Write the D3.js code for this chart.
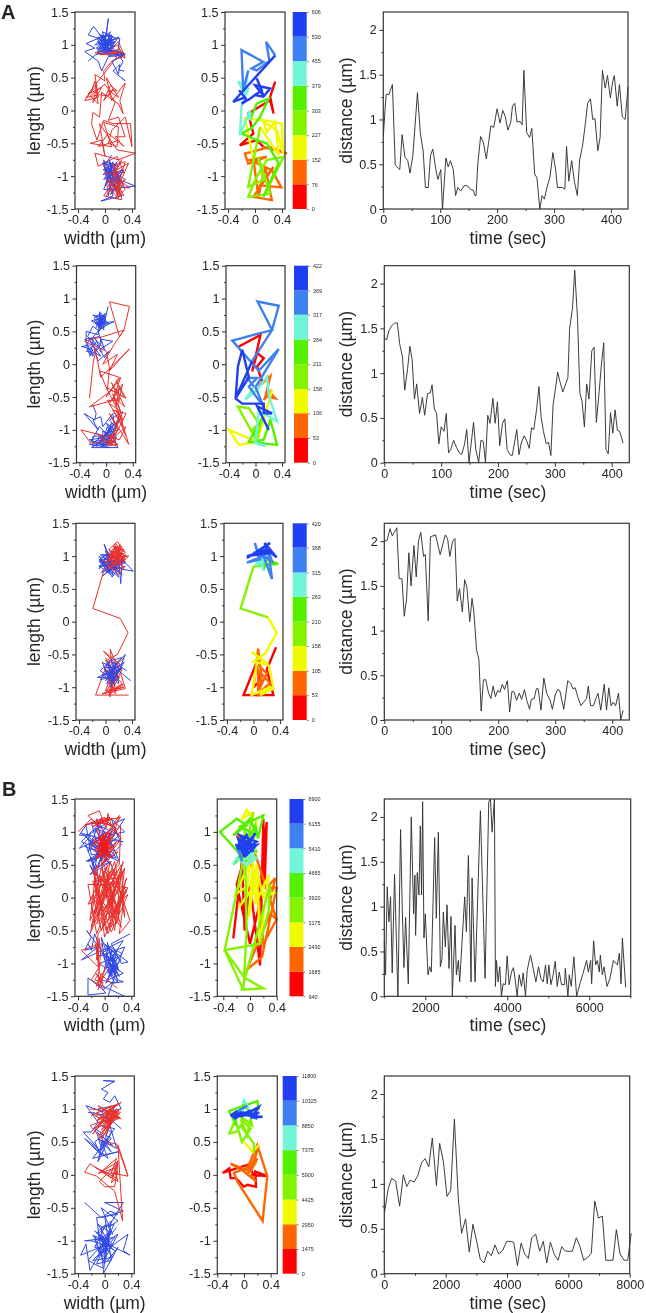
<!DOCTYPE html>
<html><head><meta charset="utf-8">
<script src="https://cdnjs.cloudflare.com/ajax/libs/d3/7.8.5/d3.min.js"></script>
<style>html,body{margin:0;padding:0;background:#fff}svg{display:block;filter:blur(.3px)}text{font-family:"Liberation Sans",Arial,sans-serif;fill:#262626}</style>
</head><body><svg id="c" width="646" height="1313"></svg>
<script>
// Values. Flat lists are x,y,x,y,...
const bandColors=["#ff0000","#ff6600","#f0fb00","#84f200","#55f000","#70f5d8","#3f80f0","#1f3ff0"];

const a1Red=[-.1,.9,.15,.92,.27,.85,.05,.9,.2,1.05,.3,.8,.12,.87,-.08,.85,.22,.93,.28,.83,.1,.75,-.02,.6,0,.45,-.15,.55,-.1,.2,-.3,.15,-.2,.3,-.15,.45,-.1,.1,-.22,.22,0,.4,.08,.28,.2,.2,.02,.5,.1,.15,.3,.42,.22,.15,.27,-.05,.2,.1,-.05,.28,-.08,-.1,-.18,-.03,-.2,-.2,-.12,-.45,-.02,-.15,.12,-.2,.38,-.2,.4,-.55,.3,-.1,.1,-.3,.05,-.5,.18,-.55,.2,-.25,-.02,-.18,.1,-.55,-.22,-.5,-.05,-.45,0,-.7,-.08,-.2,.18,-.6,.45,-.65,.2,-.75,-.15,-.65,-.1,-.85,.18,-.7,.28,-.95,0,-.9,.37,-1.18,.05,-1.14,.25,-.9,-.02,-1.3,.25,-1.36,.14,-.85,.05,-1.3,-.02,-.75,.1,-1.1,.22,-1.25,.18,-.95,.3,-1.2,.2,-1.3,.05,-1,.25,-1.15,.18,-1.3,.08,-.85,.3,-.78,.2,-1.1];
const a1RedMid=[-.12,.9,.28,.88,0,.92,.2,1,.25,.8,.08,.93,.3,.86,-.15,.88,.18,.82,-.25,.25,-.05,.35,-.18,.12,-.12,.38,-.28,.2,-.08,.24,.05,.22,.12,.33,-.02,.15,.08,.38,.18,.3,.05,.3,.15,.12,.05,-.15,.2,-.1,.3,-.4,.15,-.4,.28,-.55,.05,-.35,-.1,-.55,.22,-.45];
const a1RedLow=[0,-.95,.22,-1,.05,-1.25,.3,-1.05,.12,-1.2,.28,-1.3,.15,-1.05,.2,-1.35,.05,-1.15,.25,-.75,.1,-.95,.35,-.8,.18,-1.2,.02,-1.05,.28,-1.15,.12,-.8,.22,-1.3];
const a1Blue=[.1,-.68,-.02,-.85,.12,-.95,-.02,-.78,.15,-.82,-.03,-.9,.2,-1,.02,-1.1,.18,-.78,-.02,-1.05,.25,-.9,.05,-1.2,.45,-1.15,.2,-1.05,.02,-.95,.12,-1.3,-.06,-1.38,.25,-1.3,.1,-1.1,.05,-.85];
const a1BlueLow=[.02,-.82,.15,-.9,-.03,-.98,.12,-.78,0,-1.15,.18,-.95,.05,-.88,.1,-1.05,-.04,-.8,.2,-.85,.03,-1.02,.14,-1.15,0,-.9,.22,-1.1,.06,-.75,.17,-1.22,-.02,-1.2,.1,-.92,.3,-1.05,.08,-1.28,.28,-.9,.02,-1.3];
const a1BlueTop=[.25,.5,.3,.45,.12,.6,.22,.7,.2,.55,.1,.75,.28,.85,.05,.82,-.05,.6,-.1,.75,-.3,.9,-.15,.95,-.28,1.02,-.1,1.1,-.25,1.15,-.17,1.28,0,1.05,.05,1.4,.02,1.15,-.1,1.1,.1,1.15,.08,.95,-.1,.9,.12,1.08,-.05,1,.2,1.12,.05,.9,0,1.12,-.08,.95,.1,1.02,-.12,1.1,.02,.88,.08,1.15,-.05,.9,.13,.95,-.02,1.1,0,.92,.1,1.08,-.1,1.02,.15,.98,-.05,1.15,.05,.85,.3,.85,.15,.92,-.14,.85,-.25,.75];
const a1BlueCore=[-.12,1.05,.1,.9,-.08,1.15,.12,1.12,-.05,.95,.05,1.08,-.1,.88,.15,1.05,0,1,-.15,1,.08,1.2,-.02,.9,.12,.98,-.08,1.08,.05,.95,-.13,.95,.1,1.1,-.03,1.02,.08,.88,-.1,1.12,.14,1.02,.02,1.18,-.06,.98,.09,1.05,-.12,.92,.04,1,.16,1.1,-.04,1.2,.06,.92,-.09,1.04,.22,1.1,.18,.85,.27,.75,.2,.62,.28,.6];
const a1Bands=[
[.3,.44,.225,.21,.275,-.045,.225,.155,-.1,-.045,-.025,-.35,-.225,-.53,.025,-.45,.125,-.555],
[.475,-.655,.225,-.555,-.15,-.655,-.1,-.81,.175,-.705,-.075,-.755,.25,-.91,.39,-1.17,.075,-1.14,.275,-.86,-.025,-1.315,.25,-1.365,.15,-.86,.05,-1.315,-.025,-.73],
[-.15,-.12,.175,-.155,.4,-.2,.415,-.655,.325,-.3,.125,-.17,.175,-.325,.3,-.17,.35,-.68,.075,-.25],
[-.1,-1.16,.125,-1.06,.05,-.705,.225,-1.265,-.1,-1.315,.025,-1.01,.175,-.755,.425,-.705,.125,-1.315],
[.35,-.8,.175,-.5,.025,-.45,-.2,-.35,-.05,-.27,.075,-.1,.2,.18,.025,.105,-.075,-.15],
[-.075,0,-.225,-.375,-.2,.055,-.1,.335,-.25,.44,-.15,.26,-.1,.61],
[-.175,.31,-.2,.92,.125,.74,-.05,.64,.025,.61,.215,.755,.165,1.045,.3,.84],
[-.325,.13,-.15,.2,-.235,.31,-.125,.16,-.2,.105,-.075,.18,.1,.31,.025,.49,.125,.23,0,.385,.225,.335,.125,.21,0,.235,-.1,.16]];
const a1Ticks=[0,76,152,227,303,379,455,530,606];
const a1Distance=[0,.81,3,1.1,5,1.28,10,1.28,16,1.39,21,.49,29,.44,33,.83,38,.58,43,.54,47,.4,52,.6,60,1.3,65,.85,70,.65,74,.24,79,.24,83,.6,87,.67,92,.45,96,.33,101,.44,104,0,110,.57,114,.47,118,.54,123,.44,127,.15,131,.24,136,.2,142,.26,148,.26,153,.22,158,.21,161,.15,163,.15,166,.5,171,.81,176,.74,181,.56,185,.74,189,.93,194,.91,200,1.12,205,.96,210,1.1,214,1.04,219,.88,224,.97,227,1.15,231,1.18,235,.97,240,.98,244,.94,247,1.55,252,.85,257,.8,261,.9,266,.39,270,.35,275,0,279,.15,283,.11,288,.25,293,.36,298,.63,303,.43,306,.24,312,.24,315,.24,319,.22,322,.7,326,.31,331,.54,336,.3,341,.15,345,.55,350,.7,355,.95,359,1.18,364,1.23,368,1,372,1.01,377,.65,381,.8,385,1.55,390,1.35,394,1.49,399,1.24,403,1.42,406,1.49,411,1.15,415,1.39,420,1.03,425,1,430,1.36];

const a2Red=[-.25,-.52,-.19,.05,-.15,.2,-.17,.25,-.08,-.2,.35,.23,.05,-.1,.17,.15,-.05,0,.12,.3,.27,.52,.35,.88,.05,.95,.2,.42,.27,.52,-.05,.42,-.32,.35,0,.2,.05,-.05,.02,-.4,-.1,-.1,.2,-.2,0,-.5,.22,-.2,.1,-.55,-.25,-.65,.08,-.4,.27,-.5,.15,-.25,.3,-.52,0,-.35,.15,-.65,.2,-.35,.05,-.6,.22,-.72,.1,-.45,.25,-.95,.1,-.7,.3,-.75,.18,-1,.05,-.75,.34,-1.22,.2,-.75,.15,-.95,.02,-1.2,.3,-.95,.2,-1.15,-.38,-1,-.23,-1.2,0,-1.18,-.1,-1.1,.15,-1.25,.1,-1.12,.18,-1,.03,-1.22,.15,-1.15,.05,-1.08,.1,-1.2];
const a2RedMore=[.1,-1.18,.18,-1.22,0,-1.25,.12,-1.15,.05,-1.22,.2,-.85,.15,-.7,.25,-.85,.18,-.6,.25,-.3,.12,-.5,.28,-.65,.18,-.45,.08,-.28,.2,-.55,.02,-.55,.22,-.9,.3,-1.1];
const a2Blue=[.03,.88,-.03,.62,-.15,.72,-.02,.75,-.18,.65,-.03,.55,-.1,.8,-.08,.55,.12,.65,-.12,.62,-.02,.7,-.2,.75,0,.6,-.12,.5,-.05,.72,-.15,.6,0,.75,-.1,.58,-.22,.66,-.08,.7,-.12,.45,-.3,.5,-.3,.35,-.2,.4,-.2,.3,-.37,.27,-.2,.22,-.25,.12,-.1,.25,-.08,.38,.1,.35,-.1,.22,-.02,.1,.05,.2,-.12,.05,-.2,.3,-.25,.15,-.3,.3,-.12,.5,-.05,.3];
const a2BlueCore=[-.14,.68,-.02,.6,-.1,.75,-.06,.58,-.16,.62,-.04,.72,-.12,.55,0,.66,-.08,.78,-.18,.7,-.03,.52,-.11,.64,-.01,.78,-.15,.56,-.07,.68,-.13,.74,.04,.62,-.09,.6,-.05,.66,-.14,.6,-.02,.7,-.1,.5,-.2,.58,-.28,.42,-.15,.32,-.3,.2,-.18,.18,-.08,.12,-.24,.35,-.12,.28,-.2,.12,-.32,.38,-.1,.42,-.02,.22,-.16,.38,-.06,.18];
const a2BlueLow=[-.2,-.62,-.15,-.75,-.17,-.85,-.33,-.75,-.12,-1,-.2,-.85,-.08,-.8,-.05,-.95,.1,-.75,.12,-.9,0,-1.05,.18,-1,.05,-.85,.25,-.72,.1,-1.1,-.05,-1.02,-.05,-1.15,.02,-.95,.08,-1.08,-.2,-1.1,-.2,-1.25,-.02,-1.12,-.25,-1.15,0,-1.25,.15,-1.05,-.22,-1.27,.18,-1.27,.05,-1,-.1,-1.22,.1,-1.22,-.15,-1.05,0,-1.15,.08,-.9,-.05,-1.2];
const a2BlueBase=[-.18,-1.18,.12,-1.12,-.08,-1.25,.15,-1.18,-.12,-1.12,.05,-1.2,-.2,-1.2,.08,-1.02,-.02,-1.08,.12,-.98,0,-.9,.16,-1.12,-.05,-1.1,.1,-.95,.02,-1.18,-.15,-1.25,.18,-.85,.06,-1.12,-.1,-.95,-.25,-1.22,.05,-1.27];
const a2Bands=[
[-.25,.27,.075,.445,-.05,-.11,.025,.17,.125,.09,.025,-.035,.1,-.265],
[.05,-.34,.225,-.18,.15,-.49,.3,-.52,.2,-.415,.125,-.545,.25,-.39],
[.025,-1.18,-.4,-1,-.25,-1.23,.025,-1.18],
[-.265,-.645,-.1,-.67,.05,-.9,-.05,-1,.025,-1.13,.1,-.82],
[-.1,-1.18,.325,-1.23,.225,-.85,.125,-1.15,-.025,-1.18],
[.15,-1.25,0,-1.2,.05,-.7,.325,-.87,.2,-.47,.175,-.19,.025,-.39,-.15,-.54,-.025,-.34],
[-.125,-.21,.025,-.21,-.1,-.34,.125,-.65,0,-.35,.35,.23,.05,-.1,-.35,.36,.25,.52,.03,.955,.35,.89,.25,.52,-.05,.05],
[-.3,-.52,-.1,-.2,-.2,.22,-.265,-.035,-.3,-.52,-.2,-.6,.125,-.6,.125,-.745,.25,-.75,.025,-.64,.2,-1]];
const a2Ticks=[0,53,106,158,211,264,317,369,422];
const a2Distance=[0,1.4,4,1.37,8,1.47,13,1.53,18,1.56,23,1.56,27,1.33,32,1.18,36,.81,41,1.05,45,1.3,49,1.15,53,.71,57,.88,62,.55,67,.73,71,.53,76,.77,81,.78,84,.87,88,.6,92,.55,96,.21,100,.4,105,.35,109,.55,113,.11,117,.15,122,.25,127,.17,132,.11,136,.09,141,.2,145,.37,149,0,154,.28,157,.45,161,.15,166,0,170,.25,174,.24,178,0,182,.53,186,.44,191,.72,195,.44,199,.68,203,.19,208,.44,212,.49,216,.15,221,.09,225,.08,229,.22,233,.37,237,.09,241,.22,246,.3,250,.25,255,.16,259,.39,263,.37,268,.6,272,.85,276,.5,280,.35,285,.21,289,.23,293,.08,297,.65,301,.82,305,1.01,310,.88,314,.79,318,.86,323,.95,326,1.5,331,1.72,335,2.15,340,1.6,344,.78,348,.68,352,.4,356,.88,360,.71,365,1.25,369,1.29,373,.45,378,.8,382,1.1,386,1.34,390,.15,394,.1,398,.56,402,.33,406,.59,410,.36,414,.35,420,.22];

const a3Red=[.35,-1.12,-.15,-1.12,.03,-.63,.1,-.9,0,-1.1,.25,-.95,.05,-1.12,.2,-.75,.07,-.42,.12,-.85,.07,-1.15,.07,-.73,.27,-.97,-.05,-1.1,.3,-1.02,.2,-.7,-.03,-.45,.22,-.65,0,-.6,.18,-.5,.34,-.17,.22,.05,-.19,.2,-.02,.8,.1,.85,.25,.9,.05,1.1,.18,1.22,.3,1.05,.08,.95,.28,1,.15,1.2,.1,.98,.35,1,.2,.85,.02,.98,.25,1.15,.12,.9,.22,1.1,.05,1.02,.3,.95,.15,1.05,.25,.98,.18,1.15,.08,1.08,.22,.92,.13,1.12,.28,1.1,.1,.88,.2,1.02,.05,.85,-.05,.95,.2,.72,.3,.85,.12,.78,0,.9,.22,1.03,.14,.95,.25,1.05,.16,1,.2,1.08];
const a3RedTop=[.18,1,.05,.95,.28,1.08,.12,1.15,.2,.98,.02,1.05,.24,.86,.1,1.08,.32,1,.15,.9,.22,1.18,.08,.9,.27,.95,.16,1.1,0,.88,.2,1.12,.12,1,.3,.92,.06,.82,.24,1.02,.15,1.15,.19,.95,.1,1.03,.25,1.1,.17,1.06,.22,.98];
const a3RedLow=[0,-.55,.18,-.9,.02,-.82,.25,-.72,.1,-1.05,.28,-1,0,-1.05,.18,-.62,.05,-.95,.22,-.85,-.02,-.72,.15,-1.1,.12,-.7,.28,-.55];
const a3Blue=[.38,-.9,.2,-.75,.3,-.5,.1,-.7,-.05,-.62,.05,-.85,-.12,-.85,.1,-.75,.02,-.95,.15,-.65,.2,-.95,0,-.75,.15,-.85,-.08,-.88,.25,-.55,.05,-.6,.15,-.9,-.02,-.7,.2,-.7,.08,-1,.12,-.62,.32,-.75];
const a3BlueLow=[.02,-.7,.18,-.8,.08,-.58,-.08,-.75,.12,-.88,.25,-.7,0,-.9,.15,-.72,.05,-.78,.28,-.62,.1,-.92,-.05,-.8,.2,-.85,.02,-.62,.14,-.98];
const a3BlueTop=[-.1,.8,.05,1.05,-.08,.95,.2,.75,.02,.9,-.1,1,.12,.7,0,1.08,.25,.9,-.05,.85,.42,.77,.25,.95,.23,.58,.2,.95,.05,.75,-.08,.9,.18,1.1,.12,.85,-.02,1.18,.1,.8,.3,1.02,.08,.72,-.1,.85,.15,.95,.05,1.1,.28,.82,.02,.8,.2,1];
const a3BlueCore=[-.08,.82,.1,1,-.05,1.02,.18,.8,-.1,.92,.22,1,0,.78,.15,1.05,-.06,.75,.3,.9,.02,1,.2,.68,-.1,.95,.08,.85,.25,.72,.04,.95,.18,.9,-.04,.7,.28,.95,.1,.68,0,.85,.22,.82,.12,1.02,-.08,1.02,.06,.9];
const a3Bands=[
[.34,-.39,.2,-.73,.3,-1.12,-.15,-1.12,.04,-.64,.1,-.9,0,-1],
[.07,-.41,.12,-.84,.07,-1.14,.07,-.74,.25,-.94,.05,-1.11,.2,-.79,.05,-.64],
[-.03,-1.12,.27,-.99,.1,-1.12,.3,-1.02,.24,-.69,.2,-.63,-.03,-.46,.22,-.66,0,-.61,.18,-.48,.35,-.17,.22,.065],
[-.195,.2,0,.84,.2,.86,.37,.89,.05,.86],
[.2,.87,.37,.88,.2,.95,.15,.78],
[.1,1,.05,.9,.15,.95,.05,.85,.2,1.02,.12,.85,.18,1.2,.1,.92,.25,1,.08,.98],
[.02,1.2,.1,.95,-.1,.9,.15,1,.28,.65,.22,1.1,.28,.92,.05,1.07,.25,1.2],
[-.1,.97,.1,1.08,.2,1.07,.17,1.2,.35,.98,.2,1.1,0,1.05,.3,1.05,-.1,1,.25,1.1,.12,1.05]];
const a3Ticks=[0,53,105,158,210,263,315,368,420];
const a3Distance=[0,2,5,2.01,10,2.14,14,2.06,22,2.15,26,1.58,31,1.58,35,1.16,39,1.35,43,1.87,47,1.5,52,1.95,56,1.6,60,2,64,2.1,69,1.83,72,1.85,77,1.11,81,2.05,90,2.07,98,1.85,107,2.07,111,2.03,115,1.83,120,2,124,2.03,128,1.33,132,1.47,137,1.21,141,1.57,145,1.48,150,1.1,154,1.36,157,1.22,162,.78,166,.68,170,.1,174,.45,178,.45,183,.3,187,.24,191,.38,195,.26,199,.33,203,.31,207,.4,211,.34,216,.44,220,.09,224,.32,228,.31,232,.22,237,.3,241,.23,246,.34,250,.22,255,.12,258,.23,263,.24,267,.35,270,.35,275,.11,280,.47,285,.3,291,.22,295,.12,300,.28,304,.34,308,.33,315,.12,322,.44,327,.41,331,.35,335,.36,340,.25,345,.16,350,.2,355,.24,358,.38,362,.16,367,.16,372,.25,375,.3,380,.11,386,.4,390,.11,394,.36,398,.16,402,.2,406,.16,411,.3,415,0,419,.11];

const b1Red=[-.4,1,-.2,1.2,-.05,1.05,-.25,1.25,-.08,1.32,.02,1.05,.05,1.28,.1,1.1,-.15,1.15,.24,1.22,-.02,.9,.22,1.25,.1,.85,-.12,1.05,0,.7,-.1,.95,.05,.9,-.08,.75,.03,1,-.05,.65,.08,.8,-.12,.85,0,.95,-.03,.7,.1,.95,-.05,.78,.02,.6,-.15,.75,.05,.75,-.07,.85,.15,.7,-.03,.9,.02,.82,-.08,.72,.06,.92,-.1,.62,.18,.85,-.02,.55,-.18,.9,.1,.6,0,.78,.24,1.1,.22,.5,-.12,.2,.35,.15,.05,-.35,.2,.3,.28,.55,-.05,-.5,-.18,.05,.1,-.3,.15,.45,-.22,-.35,-.12,.5,-.05,-.2,.08,.55,.38,-.35,.22,-.55,.28,-.1,.1,.25,-.2,-.45,-.02,.4,.18,-.4,.3,.2,0,-.6,-.1,.1,.05,.5,-.25,-.1,.12,.05,-.08,.35,.2,-.15,.33,.3,.05,-.55,-.15,.3,0,.25,.15,-.5,.25,.4,-.12,-.55,-.25,.2,.18,.2,-.05,.55,.1,-.45,.32,.12,.15,-.2,-.1,-.55,-.12,-.95,-.08,-.62,-.1,-1.05,-.35,-.8,-.05,-.7,-.1,-1.3,-.05,-1.15,-.12,-1.35,.02,-1.05,-.1,-1.4,-.02,-1.2,.19,-1.38];
const b1RedCore=[-.02,.82,.04,.7,-.08,.9,.06,.62,-.05,.72,.02,.95,-.1,.78,.08,.85,-.04,.6,0,.88,-.06,.68,.05,.8,-.12,.7,.03,.72,-.03,.98,.07,.7,-.09,.82,.01,.65,-.02,.76,.04,.88,-.07,.8,0,.72,.02,.78,-.04,.84,.05,.68,-.1,.92,.12,.78,-.14,.58,.1,1,-.2,.8,.18,1.05,-.08,1.18,.08,1.22,-.18,1.08,.12,1.2,-.3,1.1,0,1.22,.25,.9,-.05,.5,.2,.7,-.12,.45];
const b1RedMid=[.2,.55,-.1,-.1,.15,.55,.3,-.3,.25,.5,-.15,-.25,.08,.4,.33,.1,.02,-.5,-.18,.45,.12,-.1,.28,.4,-.2,-.25,-.05,.45,.2,-.35,.3,.45,-.08,-.35,-.16,.4,.1,.1,.22,-.25,0,.45,.25,-.45,-.15,.1,.18,.4,-.22,-.55,-.02,.2,.15,-.3,.05,.3,-.12,-.4,.35,.05,.1,-.52,-.18,.25,.22,.3,-.03,-.45,.3,0,.06,.35,-.1,-.3,.24,.15,0,-.15,-.22,0];
const b1RedLow=[-.12,-.6,-.1,-.85,-.14,-.7,-.1,-.95,-.12,-.75,-.08,-1.15,-.15,-1.25,-.02,-1.3,-.13,-1.15,0,-1.38,-.2,-1.25,-.05,-1];
const b1Blue=[.38,-.55,.1,-.7,.25,-1,.35,-.98,.05,-.75,0,-1.1,.15,-.85,.05,-1.25,.28,-1.15,0,-.95,-.05,-.6,.12,-1.1,.02,-1.3,.2,-.9,-.08,-1,.18,-1.2,.05,-1,.28,-.65,-.35,-.95,-.1,-.75,-.3,-.8,-.2,-.6,-.27,-.5,-.05,-.8,.1,-1.05,.2,-1.25,.28,-1.28,.1,-1.3,-.02,-1.4,-.25,-1.22,-.25,-1.48,.02,-1.45,-.12,-1.3,.3,-1.5,.05,-1.5,.2,-1.05,.12,-.9,.22,-1.12];
const b1BlueLow=[.08,-.9,.2,-1.1,.02,-.85,.16,-1.18,.1,-.8,.05,-1.15,.25,-.95,0,-.7,.18,-1,.08,-1.2,.14,-.95,-.02,-.85,.22,-1.2,.1,-.95,.04,-.68,.2,-1.3,.06,-1.1,.15,-1.3,-.05,-1.25,.12,-1,.26,-.85,.08,-.75,-.1,-.9,.3,-.75,.15,-1.12,.02,-1.05,.18,-.8,.1,-1.18,-.15,-.55,-.2,-.8,-.25,-.7];
const b1BlueTop=[-.1,.2,-.22,.5,-.15,.35,-.2,.6,-.1,.3,-.28,.8,-.38,.75,-.2,.95,-.38,.95,-.28,1.1,-.2,.65,.1,.7,-.28,.55,-.05,.7,.1,.5,-.2,.75,.22,.55,.05,.95,.3,1,.1,1.2,.25,.8,-.1,.45,.02,.85,.15,.95,-.15,1.05,.12,.6,-.1,.85,.05,1.15,-.25,.95,0,.6,-.12,1.2,.1,.8,-.08,.55];
const b1BlueCore=[-.3,.95,-.12,.75,-.35,.85,-.1,1.1,-.25,.7,0,1,-.18,.5,.1,.95,-.22,.82,.08,.62,-.15,.9,.28,.85,-.08,.95,.18,.6,-.3,.78,.12,1.05,-.05,.55,-.2,1.15,.22,.95,-.12,.65,.15,.8,-.25,.55,.05,.65,-.35,.98,-.05,.9,-.15,.45,.1,.55,-.22,.35,-.1,.5,0,.75,.3,1.2,.08,1.1];
const b1Bands=[
[-.25,-.62,-.12,.55,-.08,-.5,0,.2,.15,-1.03,.2,1.2,.22,.2,.25,1.15,.12,-.2,0,-.7,-.2,.2,0,.9],
[.4,-.33,.3,-.05,.38,.3,.25,.15,.4,.15,.18,-.9,-.05,-1.1,.3,-.25,.4,-.33,.2,-.7,.1,.3,-.2,1,.02,.6],
[-.22,.05,.15,.3,-.17,-.15,.05,.15,.05,.65,-.02,-.3,.1,.5,.08,-.1,.28,.35,.15,-.7,.1,.45,.2,0,.38,.08,-.05,.05,0,.6,.1,1.15,-.05,1.33,-.12,1.2,.05,1.3],
[-.38,-.8,.15,-.7,.28,-.2,.3,.2,-.12,-1.4,.2,-1.38,-.08,-1.22,-.38,-.8,-.1,-1.4,-.05,-.5,-.08,1,.1,.7,-.05,.55],
[-.45,1,-.2,1.2,-.05,1.1,-.25,.95,0,1.2,.1,.95,-.15,1.08,.2,1.25,.12,.9,.08,1.1,-.2,.55,-.25,.5],
[-.2,.6,-.05,.5,.1,.6,-.1,.7,0,.55,.05,.7,-.12,.55],
[-.2,.8,-.05,.85,-.1,.65,0,.9,-.15,.7,.05,.75],
[-.22,.8,-.02,.75,-.15,.95,.1,.85,-.12,.72,.08,.98,-.1,.65,-.18,.9,.05,.7,-.05,.95,-.15,.75,.1,.8,-.08,.62,.02,.9,-.2,.75,0,.8,-.1,.88,-.03,.68]];
const b1Ticks=[940,1685,2430,3175,3920,4665,5410,6155,6900];
const b1Distance=[1000,.61,1030,.24,1071,1.22,1112,.83,1153,1.11,1193,.26,1250,1.36,1332,0,1397,1.86,1438,.98,1479,.32,1519,.88,1585,.14,1658,2,1715,.92,1747,1.35,1764,.68,1804,1.38,1845,1.13,1878,1.9,1910,1.13,1935,2.17,1967,.65,2000,.92,2065,.24,2106,.33,2147,.27,2228,1.77,2269,.87,2318,1.83,2367,.33,2407,.42,2440,.94,2489,.55,2530,1.02,2578,.31,2627,.89,2660,0,2725,.79,2758,.24,2807,.4,2839,.16,2961,1.11,3002,.72,3051,1.57,3116,.16,3141,1.32,3214,.16,3344,2.07,3458,.2,3548,2.17,3589,2.2,3629,1.83,3686,2.2,3711,.11,3735,.4,3776,.16,3817,.33,3857,0,3898,.14,3955,.13,3996,.45,4045,.13,4102,.27,4151,.32,4200,.16,4240,0,4289,.24,4346,.11,4387,.26,4444,0,4485,.29,4566,.46,4632,.31,4697,.16,4762,.33,4819,.2,4876,.16,4933,.35,4974,.14,5014,.35,5063,.13,5120,.24,5169,.39,5218,.11,5267,.27,5324,.13,5397,.13,5414,.31,5479,0,5511,.24,5560,.11,5625,.44,5691,0,5772,.14,5837,.24,5935,.4,5976,.27,6033,.4,6057,.14,6106,.62,6155,.35,6196,.4,6245,.27,6269,.46,6318,.24,6359,.33,6432,.11,6505,.2,6587,.4,6684,.35,6733,.48,6774,.14,6807,.65,6888,.1];

const b2Red=[-.22,1,.2,.95,-.1,.85,.25,1.1,0,.95,.22,.88,-.05,.8,.15,1.05,-.15,.7,.05,.92,.25,.85,-.1,1.05,.1,.9,.02,.65,.12,.85,-.08,.6,.08,.78,-.15,.9,.18,.95,0,.75,.06,.9,-.18,.62,.1,1,.2,.92,-.05,.55,.05,.7,.22,1,.12,.92,-.02,.78,.15,.88,-.22,.75,0,.5,.18,.47,.35,-.02,.3,.15,.2,.45,.27,-.7,.15,-.25,-.12,-.02,-.3,.04,-.22,.17,.1,-.05,.2,.18,.15,-.18,0,-.18,-.08,-.1,.17,.15,.2,0,-.05,.05,.18,.25,.1,.03,.35,-.02];
const b2RedCore=[.1,.92,.2,.85,.05,.98,.24,.95,.08,.85,.18,1,0,.82,.22,.92,.12,.98,.06,.72,.15,.9,.03,.62,.1,.82,-.05,.68,.14,.95,-.12,.82,.2,1.08,-.2,.9,.1,1.05,.02,.88,.22,.86,-.1,.72,.08,.98,.16,.92,.04,.75,0,.68,-.08,.55];
const b2RedLow=[.1,.05,.2,.2,-.1,.02,.15,.1,.2,-.1,-.15,.12,.18,-.05,.1,-.12,.2,.22];
const b2Blue=[.15,1.42,-.02,1.43,.15,1.42,-.05,1.3,.05,1.25,-.02,1.15,.08,1.1,.15,1.2,.25,1,0,.95,-.28,1.05,-.1,.8,-.2,.65,-.32,.65,-.1,.4,-.3,.55,-.05,.3,-.15,.5,-.02,.6,-.1,.2,.02,.45,.1,.65,-.05,.75,.15,.7,0,.5,.1,.35,-.1,.55,.18,.4,.15,.5,.05,.85,-.18,.95];
const b2BlueTop=[-.25,.95,.05,.9,-.15,.7,.1,.55,-.08,.35,-.2,.45,.05,.25,-.05,.5,.12,.45,-.12,.65,-.02,.3,.2,.35,-.18,.25,.05,.55,-.03,.4,.15,1.05,-.1,1,.25,.7];
const b2BlueLow=[-.3,-.42,-.05,-.65,.28,-.55,0,-.42,.28,-.42,.05,-.8,.2,-.7,-.05,-.5,.12,-.9,-.1,-.75,.05,-1,-.15,-.85,.1,-1.1,-.2,-1,-.3,-1,.15,-.95,-.05,-1.2,.35,-.9,.28,-1.15,.38,-1.22,.05,-1.05,-.36,-1.22,-.28,-1.05,-.22,-1.45,-.08,-1.2,-.15,-.95,0,-1.35,.08,-.85,-.1,-1.15,.05,-1.3,.2,-1.1,-.02,-1.5,.02,-1.1,-.18,-1.3,.12,-1.25,-.1,-.9,.1,-.7,0,-1.2];
const b2BlueCore=[-.1,-1,.1,-.85,-.05,-1.1,.12,-1.05,-.12,-.88,.02,-.75,-.15,-1.1,.05,-1.15,-.08,-.95,.15,-1.15,-.18,-.92,0,-.98,-.1,-1.25,.08,-1,-.02,-1.05,.2,-.9,0,-1.28,-.05,-.8,.14,-.75,-.12,-1.35,.1,-1.3,0,-.62,.08,-.55,.2,-.6,-.12,-.65,-.02,-1.42,-.25,-1.3,.18,-.8];
const b2Bands=[
[.15,0,.05,.15,-.32,.03,-.22,.1,-.2,-.05,-.12,-.05,0,-.18,.05,-.15,.18,-.18,.17,.05,.35,-.02,.1,0],
[.18,-.1,0,.05,-.2,.17,.1,.05,.2,.25,.05,.1,.2,.45,.35,-.02,.28,-.7,-.1,-.1,-.15,.03,.15,.15,.05,0,.18,.3,.22,.45],
[.13,.35,0,.5,.1,.38,.15,.33],
[.15,.47,-.05,.75,-.12,.65,-.22,.63,-.13,.83,-.03,.5,.1,.7,-.05,.85,.05,.6,.1,.85,.12,.75,-.12,.95],
[-.12,.75,-.22,.97,.2,1.12,.22,1,.1,.95,-.02,1.08],
[0,1.13,.1,.95,-.1,.95,.05,1.05],
[-.2,.9,.1,.93,.2,.85,-.1,.97],
[-.2,.9,0,.95,-.15,.85,.1,.98,-.05,.88,.22,1.03,.14,.9,.23,.95,.1,.87,.28,.88,-.1,.92,.2,.93,-.18,.88]];
const b2Ticks=[0,1475,2950,4425,5900,7375,8850,10325,11800];
const b2Distance=[0,.67,130,.95,240,1.06,370,1.03,500,.75,620,1.1,730,.97,840,1.04,970,1.02,1090,1.09,1220,1.24,1330,1.28,1450,1.19,1565,1.51,1700,.98,1805,1.45,1925,1.25,2045,.86,2165,.93,2285,1.72,2415,.82,2520,.45,2650,.61,2770,.24,2890,.55,3010,.36,3130,.16,3250,.12,3370,.25,3490,.2,3610,.32,3730,.22,3860,.26,3990,.36,4100,.36,4220,.35,4340,.09,4460,.34,4575,.22,4695,.17,4805,.4,4935,.44,5065,.25,5185,.36,5295,.12,5415,.35,5535,.22,5665,.15,5785,.3,5905,.25,6130,.25,6260,.4,6380,.3,6500,.15,6630,.18,6750,.23,6860,.81,6980,.62,7110,.64,7220,.15,7455,.15,7565,.49,7685,.22,7815,.15,7935,.15,8050,.45];

const pairs=f=>d3.range(0,f.length,2).map(i=>[f[i],f[i+1]]);
const svg=d3.select("#c");
const axisCol="#333";
const fmt=d=>String(d);
const RED="#e8302c",BLUE="#2f48e4";

function frame(g,x0,x1,y0,y1){
  g.append("rect").attr("x",x0).attr("y",y0).attr("width",x1-x0).attr("height",y1-y0)
   .attr("fill","none").attr("stroke",axisCol).attr("stroke-width",1.2);
}
function axes(g,sx,sy,xMaj,xMin,yMaj,yMin){
  const y1=sy.range()[0],x0=sx.range()[0];
  const style=s=>{s.select(".domain").remove();s.selectAll("line").attr("stroke",axisCol).attr("stroke-width",1);
    s.selectAll("text").attr("font-size",12.6).attr("fill","#262626").attr("font-family",'"Liberation Sans",Arial,sans-serif');};
  g.append("g").attr("transform",`translate(0,${y1})`).call(d3.axisBottom(sx).tickValues(xMin).tickSize(2).tickFormat("")).call(style);
  g.append("g").attr("transform",`translate(0,${y1})`).call(d3.axisBottom(sx).tickValues(xMaj).tickSize(4).tickPadding(2.5).tickFormat(fmt)).call(style);
  g.append("g").attr("transform",`translate(${x0},0)`).call(d3.axisLeft(sy).tickValues(yMin).tickSize(2).tickFormat("")).call(style);
  g.append("g").attr("transform",`translate(${x0},0)`).call(d3.axisLeft(sy).tickValues(yMaj).tickSize(4).tickPadding(2.5).tickFormat(fmt)).call(style);
}
const lenMaj=[-1.5,-1,-.5,0,.5,1,1.5], lenMin=[-1.25,-.75,-.25,.25,.75,1.25];
const widMaj=[-.4,0,.4], widMin=[-.2,.2];
const distMaj=[0,.5,1,1.5,2], distMin=[.25,.75,1.25,1.75];
const title=(g,x,y,t,rot)=>{const e=g.append("text").attr("text-anchor","middle").attr("font-size",17.5).text(t);
  if(rot)e.attr("transform",`translate(${x},${y}) rotate(-90)`);else e.attr("x",x).attr("y",y);};

function trackPanel(geo,series){
  const g=svg.append("g");
  const sx=d3.scaleLinear().domain([-.445,.445]).range([geo.x0,geo.x1]);
  const sy=d3.scaleLinear().domain([-1.5,1.5]).range([geo.y1,geo.y0]);
  const line=d3.line().x(d=>sx(d[0])).y(d=>sy(d[1]));
  series.forEach(([f,c])=>g.append("path").attr("d",line(pairs(f))).attr("fill","none").attr("stroke",c).attr("stroke-width",1).attr("stroke-linejoin","miter"));
  frame(g,geo.x0,geo.x1,geo.y0,geo.y1);
  axes(g,sx,sy,widMaj,widMin,lenMaj,lenMin);
  title(g,(geo.x0+geo.x1)/2,geo.y1+35,"width (µm)");
  title(g,40,(geo.y0+geo.y1)/2,"length (µm)",true);
}
function bandPanel(geo,bands,ticks){
  const g=svg.append("g");
  const sx=d3.scaleLinear().domain(geo.dom).range([geo.x0,geo.x1]);
  const sy=d3.scaleLinear().domain([-1.5,1.5]).range([geo.y1,geo.y0]);
  const line=d3.line().x(d=>sx(d[0])).y(d=>sy(d[1]));
  let last=null;
  bands.forEach((f,i)=>{const p=pairs(f);const q=last?[last,...p]:p;last=p[p.length-1];
    g.append("path").attr("d",line(q)).attr("fill","none").attr("stroke",bandColors[i]).attr("stroke-width",2.4).attr("stroke-linejoin","miter");});
  frame(g,geo.x0,geo.x1,geo.y0,geo.y1);
  axes(g,sx,sy,widMaj,widMin,geo.noTop?lenMaj.slice(0,-1):lenMaj,lenMin);
  // colour bar
  const cb=d3.scaleLinear().domain([ticks[0],ticks[8]]).range([geo.y1,geo.y0]);
  d3.pairs(ticks).forEach(([a,b],i)=>g.append("rect").attr("x",geo.cb).attr("width",14).attr("y",cb(b)).attr("height",cb(a)-cb(b)).attr("fill",bandColors[i]));
  const ax=g.append("g").attr("transform",`translate(${geo.cb+14},0)`).call(d3.axisRight(cb).tickValues(ticks).tickSize(2).tickPadding(3).tickFormat(fmt));
  ax.select(".domain").remove();ax.selectAll("line").attr("stroke","#555").attr("stroke-width",.7);
  ax.selectAll("text").attr("font-size",5.4).attr("fill","#333").attr("font-family",'"Liberation Sans",Arial,sans-serif');
}
function distPanel(geo,f){
  const g=svg.append("g");
  const sx=d3.scaleLinear().domain(geo.dom).range([geo.x0,geo.x1]);
  const sy=d3.scaleLinear().domain([0,2.2]).range([geo.y1,geo.y0]);
  const line=d3.line().x(d=>sx(d[0])).y(d=>sy(d[1]));
  g.append("path").attr("d",line(pairs(f))).attr("fill","none").attr("stroke","#333").attr("stroke-width",.95);
  frame(g,geo.x0,geo.x1,geo.y0,geo.y1);
  axes(g,sx,sy,geo.maj,geo.min,distMaj,distMin);
  title(g,508,geo.y1+35,"time (sec)");
  title(g,352,(geo.y0+geo.y1)/2,"distance (µm)",true);
}
const secMaj=[0,100,200,300,400],secMin=[50,150,250,350];
const wd=[-.445,.445];

trackPanel({x0:75,x1:135,y0:12,y1:209},[[a1Red,RED],[a1RedMid,RED],[a1BlueTop,BLUE],[a1BlueCore,BLUE],[a1Blue,BLUE],[a1BlueLow,BLUE],[a1RedLow,RED]]);
bandPanel({x0:225,x1:285,y0:12,y1:209,dom:wd,cb:292.7},a1Bands,a1Ticks);
distPanel({x0:383.3,x1:628,y0:12,y1:209,dom:[0,430],maj:secMaj,min:secMin},a1Distance);

trackPanel({x0:76.5,x1:135.7,y0:265.7,y1:462.7},[[a2Blue,BLUE],[a2BlueCore,BLUE],[a2BlueLow,BLUE],[a2BlueBase,BLUE],[a2Red,RED],[a2RedMore,RED]]);
bandPanel({x0:226,x1:285,y0:265.7,y1:462.7,dom:wd,cb:294},a2Bands,a2Ticks);
distPanel({x0:384.3,x1:629.3,y0:265.7,y1:462.7,dom:[0,431],maj:secMaj,min:secMin},a2Distance);

trackPanel({x0:76,x1:135,y0:523.3,y1:720},[[a3BlueTop,BLUE],[a3BlueCore,BLUE],[a3Red,RED],[a3RedTop,RED],[a3RedLow,RED],[a3Blue,BLUE],[a3BlueLow,BLUE]]);
bandPanel({x0:224,x1:283,y0:523.3,y1:720,dom:wd,cb:292.7},a3Bands,a3Ticks);
distPanel({x0:384.3,x1:629.3,y0:523.3,y1:720,dom:[0,430],maj:secMaj,min:secMin},a3Distance);

trackPanel({x0:75,x1:134.3,y0:799,y1:996.3},[[b1BlueTop,BLUE],[b1BlueCore,BLUE],[b1Blue,BLUE],[b1BlueLow,BLUE],[b1Red,RED],[b1RedMid,RED],[b1RedLow,RED],[b1RedCore,"#f01818"]]);
bandPanel({x0:217.3,x1:276.7,y0:799,y1:996.3,dom:[-.49,.4],cb:289.5,noTop:true},b1Bands,b1Ticks);
distPanel({x0:384.3,x1:630.7,y0:799,y1:996.3,dom:[1000,7010],maj:[2000,4000,6000],min:[1000,3000,5000,7000]},b1Distance);

trackPanel({x0:75,x1:134.3,y0:1076,y1:1273.7},[[b2Blue,BLUE],[b2BlueTop,BLUE],[b2BlueLow,BLUE],[b2BlueCore,BLUE],[b2Red,RED],[b2RedCore,RED],[b2RedLow,RED]]);
bandPanel({x0:217.3,x1:277.3,y0:1076,y1:1273.7,dom:[-.4,.5],cb:282.7},b2Bands,b2Ticks);
distPanel({x0:384.3,x1:629.7,y0:1076,y1:1273.7,dom:[0,8000],maj:[0,2000,4000,6000,8000],min:[1000,3000,5000,7000]},b2Distance);

svg.append("text").attr("x",1).attr("y",19).attr("font-size",20).attr("font-weight","bold").attr("fill","#111").text("A");
svg.append("text").attr("x",2).attr("y",795.5).attr("font-size",20).attr("font-weight","bold").attr("fill","#111").text("B");
</script></body></html>
